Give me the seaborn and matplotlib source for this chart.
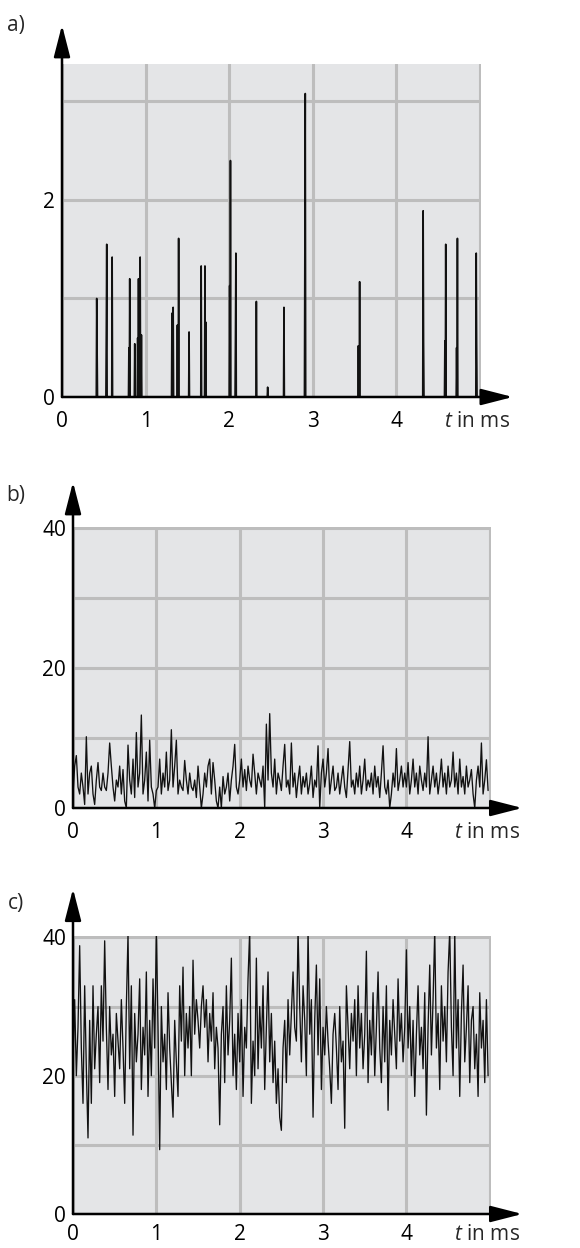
import numpy as np
import pandas as pd
import matplotlib
matplotlib.use("Agg")
import matplotlib.pyplot as plt
import seaborn as sns

# panel a: isolated pulses (time in ms, height)
spike_t = [0.415, 0.42, 0.53, 0.535, 0.60, 0.80, 0.81, 0.87, 0.905, 0.915, 0.935, 0.95,
           1.315, 1.33, 1.38, 1.395, 1.52, 1.665, 1.71, 1.72, 2.005, 2.015, 2.075, 2.08,
           2.325, 2.46, 2.655, 2.905, 2.91, 3.545, 3.56, 4.32, 4.325, 4.58, 4.59,
           4.72, 4.73, 4.955, 4.96]
spike_h = [1.0, 0.46, 0.68, 1.55, 1.42, 0.5, 1.2, 0.54, 0.6, 1.2, 1.42, 0.63,
           0.85, 0.91, 0.73, 1.61, 0.66, 1.33, 1.33, 0.76, 1.13, 2.4, 0.64, 1.46,
           0.97, 0.1, 0.91, 1.52, 3.08, 0.52, 1.17, 1.89, 0.57, 0.57, 1.55,
           0.5, 1.61, 1.46, 0.55]

# panel b: weak noise, one value every 0.02 ms
noise_b = [
    2, 6, 7.5, 3, 2, 5, 3, 0.5, 10.2, 2,
    5, 6, 2, 0.5, 4, 6.5, 3, 2.5, 5, 3,
    2.5, 5, 9.3, 6, 3, 1, 4, 3, 6, 2,
    5.5, 1, 0, 9, 4, 2, 7, 1.5, 10.8, 3,
    5, 13.3, 2, 4, 8, 1, 9.7, 3, 2, 0,
    2.5, 3, 7, 2, 5, 3, 8, 2.5, 4, 11.2,
    3, 6, 9.7, 2, 4, 3, 2.5, 6.8, 4, 2,
    5, 3, 2.5, 4, 1.5, 6, 3, 0, 2, 5,
    3, 6, 7, 2, 6.5, 4, 1, 0, 3, 0,
    4.5, 2, 3, 5, 1, 4, 6, 9.1, 3, 2,
    4, 7, 3, 5.5, 2.5, 6, 4, 3, 7.7, 5,
    2, 5, 4, 3, 6, 0, 12, 4, 13.5, 5,
    3, 7, 2, 5, 4, 2.5, 6, 9.1, 3, 4,
    2, 9.3, 3, 5, 1.5, 4, 6, 2, 4.5, 3,
    5, 2, 3.5, 6, 1.5, 4, 3, 8.9, 0, 5,
    7, 3, 5, 8.5, 2, 4, 6, 2.5, 3, 5,
    2, 4, 6, 3, 1.5, 5.5, 9.5, 3, 4, 2,
    5, 3, 6, 2, 4, 7, 2.5, 4, 3, 5,
    2, 6, 3, 4.5, 1.5, 5, 8.9, 3, 2, 4,
    0, 2, 5, 3, 8.5, 2.5, 4, 6, 3, 5,
    3, 6.5, 2, 4, 7, 3, 5, 2, 6, 4,
    2.5, 5, 3, 10.2, 2, 4, 6, 3, 5, 2,
    4, 7, 3, 5, 2, 6, 3, 4, 8, 3,
    5, 2, 7, 3, 4.5, 2, 6, 3, 4, 5.5,
    2, 0, 4, 6, 3, 9.3, 2, 4, 6.9, 2.5,
]

# panel c: strong noise, one value every 0.02 ms
noise_c = [
    22, 31, 20, 27, 38.8, 24, 16, 33, 21, 11,
    28, 16, 33, 21, 26, 30, 19, 33, 25, 39.5,
    27, 18, 30, 23, 26, 17, 29, 25, 21, 31,
    24, 16, 30, 40.5, 21, 33, 11.4, 29, 22, 26,
    34, 18, 27, 23, 35, 17, 28, 20, 34, 24,
    41, 27, 9.3, 30, 22, 26, 18, 32, 24, 19,
    14, 28, 22, 17, 33, 25, 35.7, 20, 29, 24,
    30, 20, 36.7, 26, 31, 28, 24, 30, 33, 27,
    31, 22, 29, 25, 32, 21, 27, 24, 12.9, 26,
    30, 19, 33, 23, 28, 37, 20, 26, 18, 29,
    22, 31, 17, 27, 24, 34, 41, 16, 25, 20,
    37, 21, 30, 24, 33, 18, 27, 35, 22, 29,
    19, 25, 16, 21, 14, 12.1, 24, 28, 19, 31,
    23, 29, 35, 27, 25, 41, 30, 22, 33, 28,
    20, 41, 26, 31, 14, 28, 36, 23, 34, 18,
    27, 23, 30, 25, 21, 16, 26, 29, 24, 18,
    30, 22, 25, 12.4, 33, 27, 21, 29, 25, 31,
    20, 33, 24, 29, 21, 26, 38, 19, 28, 23,
    32, 20, 27, 35, 24, 19, 30, 22, 33, 15,
    28, 23, 31, 26, 21, 34, 25, 29, 22, 27,
    38.2, 24, 30, 20, 28, 17, 26, 33, 23, 27,
    21, 32, 14.3, 27, 36, 23, 31, 41, 24, 29,
    18, 33, 25, 30, 22, 35, 41, 27, 20, 41,
    24, 31, 17, 29, 36, 22, 27, 33, 19, 28,
    30, 21, 26, 17, 32, 24, 28, 19, 31, 20,
]

x_ticks = [0, 1, 2, 3, 4, 5]
x_labels = ["0", "1", "2", "3", "4", ""]

sns.set_theme(style="white")
plt.rcParams["font.family"] = ["Open Sans", "DejaVu Sans"]
plt.rcParams["mathtext.fontset"] = "custom"
plt.rcParams["mathtext.it"] = "Open Sans:italic"
plt.rcParams["mathtext.rm"] = "Open Sans"

BG = "#e4e5e7"
GRID = "#bdbdbd"
FS = 15

# build the time axes
dt_a = 0.005
t_a = np.arange(0, 5.0, dt_a)
y_a = np.zeros(len(t_a))
for t, h in zip(spike_t, spike_h):
    y_a[int(round(t / dt_a))] = h
df_a = pd.DataFrame({"t": t_a, "v": y_a})
df_b = pd.DataFrame({"t": np.arange(len(noise_b)) * 0.02, "v": noise_b})
df_c = pd.DataFrame({"t": np.arange(len(noise_c)) * 0.02, "v": noise_c})

fig = plt.figure(figsize=(5.8, 12.48), dpi=100)


def draw_panel(ax, df, xmax, ylim, yticks, ylabels, y_arrow, x_arrow, lw, xpad=10):
    ax.set_facecolor(BG)
    sns.lineplot(data=df, x="t", y="v", ax=ax, color="#111111", linewidth=lw,
                 zorder=3)
    ax.set_xlim(0, xmax)
    ax.set_ylim(*ylim)
    ax.set_xticks(x_ticks, x_labels)
    ax.set_yticks(yticks, ylabels)
    ax.grid(True, color=GRID, linewidth=2.2)
    ax.set_axisbelow(True)
    for s in ax.spines.values():
        s.set_visible(False)
    ax.tick_params(axis="x", length=0, pad=xpad, labelsize=FS, colors="black")
    ax.tick_params(axis="y", length=0, pad=5, labelsize=FS, colors="black")
    ax.set_xlabel("")
    ax.set_ylabel("")
    arrow = dict(arrowstyle="-|>,head_length=1.95,head_width=0.5",
                 color="black", lw=1.8, mutation_scale=10,
                 shrinkA=0, shrinkB=0)
    ax.annotate("", xy=(0, y_arrow), xytext=(0, 0), xycoords="axes fraction",
                arrowprops=arrow, annotation_clip=False, zorder=5)
    ax.annotate("", xy=(x_arrow, 0), xytext=(0, 0), xycoords="axes fraction",
                arrowprops=arrow, annotation_clip=False, zorder=5)
    ax.annotate("$t$ in ms", xy=(0.99, 0), xycoords="axes fraction",
                xytext=(0, -xpad), textcoords="offset points",
                ha="center", va="top", fontsize=FS, annotation_clip=False)


W, H = 580, 1248

ax_a = fig.add_axes([62 / W, 1 - 397 / H, 419 / W, 333 / H])
draw_panel(ax_a, df_a, 5.012, (0, 3.38), [0, 1, 2, 3], ["0", "", "2", ""],
           1.117, 1.076, 1.2)

ax_b = fig.add_axes([73 / W, 1 - 808 / H, 418 / W, 281 / H])
draw_panel(ax_b, df_b, 5.015, (0, 40.2), [0, 10, 20, 30, 40],
           ["0", "", "20", "", "40"], 1.16, 1.075, 0.95)

ax_c = fig.add_axes([73 / W, 1 - 1214 / H, 418 / W, 278 / H])
draw_panel(ax_c, df_c, 5.015, (0, 40.2), [0, 10, 20, 30, 40],
           ["0", "", "20", "", "40"], 1.17, 1.075, 0.95, xpad=7)

for lab, yc in [("a)", 25), ("b)", 495), ("c)", 903)]:
    fig.text(16 / W, 1 - yc / H, lab, ha="center", va="center", fontsize=FS)

fig.savefig("out.png", dpi=100)
